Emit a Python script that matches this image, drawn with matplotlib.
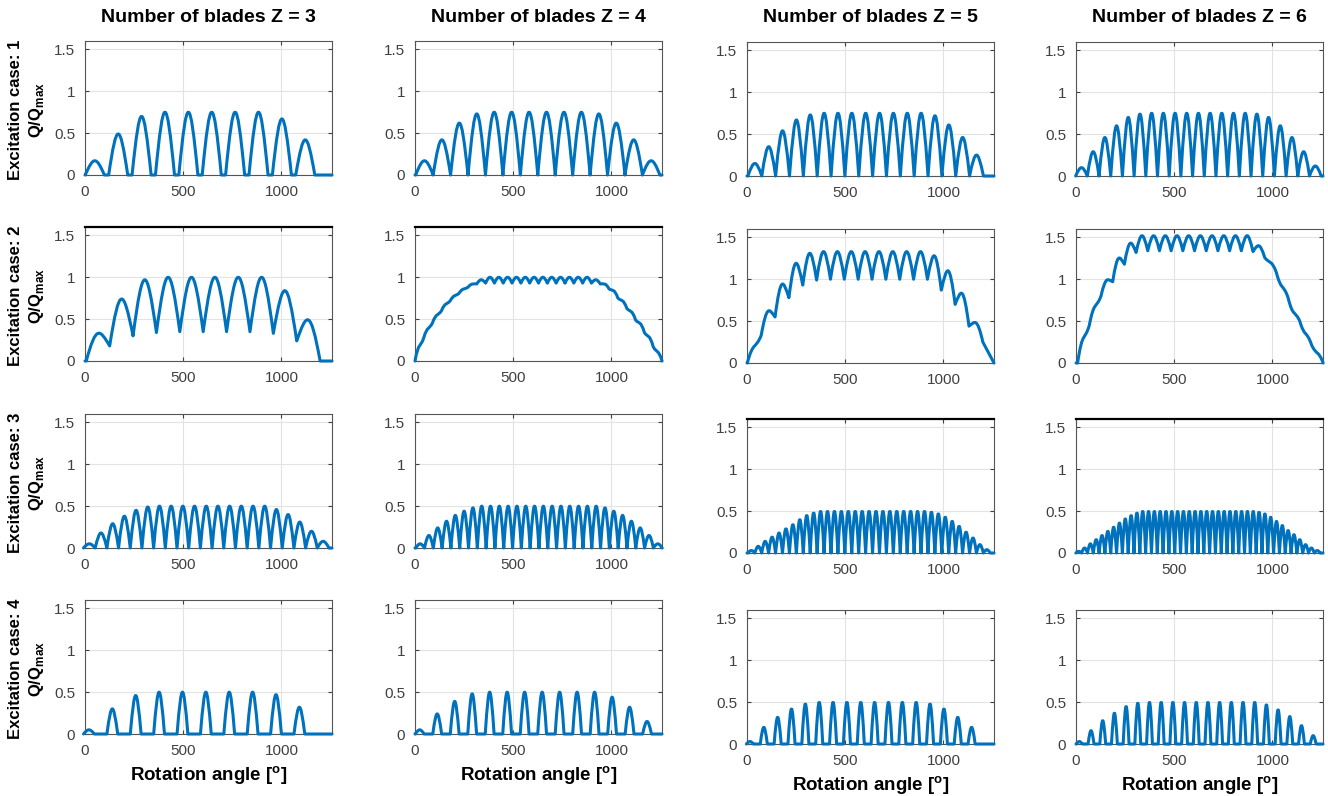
import matplotlib.pyplot as plt
from matplotlib.path import Path
from matplotlib.patches import PathPatch

plt.rcParams['font.family'] = ['Liberation Sans', 'DejaVu Sans']
plt.rcParams['mathtext.fontset'] = 'custom'
plt.rcParams['mathtext.rm'] = 'Liberation Sans'
plt.rcParams['mathtext.bf'] = 'Liberation Sans:bold'

# Data
blades = [3, 4, 5, 6]
cases = [1, 2, 3, 4]
angle_max = 1257

# Excitation case 1: separate lobes, zero between them
c1_first = [50, 48, 40, 28]          # angle of first peak
c1_period = [119, 88.75, 70.5, 59.5]  # spacing of peaks
c1_width = [97, 88.75, 70.5, 59.5]    # base width of one lobe
c1_z3 = [0.17, 0.49, 0.70, 0.75, 0.75, 0.75, 0.75, 0.75, 0.67, 0.42]
c1_z4 = [0.17, 0.42, 0.62, 0.73, 0.75, 0.75, 0.75, 0.75, 0.75, 0.75, 0.73, 0.62, 0.42, 0.17]
c1_z5 = [0.15, 0.35, 0.54, 0.67, 0.73, 0.75, 0.75, 0.75, 0.75, 0.75, 0.75, 0.75, 0.75,
         0.72, 0.61, 0.46, 0.25]
c1_z6 = [0.10, 0.29, 0.46, 0.60, 0.70, 0.74, 0.75, 0.75, 0.75, 0.75, 0.75, 0.75, 0.75,
         0.75, 0.75, 0.74, 0.70, 0.60, 0.46, 0.29, 0.12]

# Excitation case 2: ripple riding on a ramp (peaks and troughs)
c2_first = [66, 22.45, 37, 38]
c2_period = [119, 44.9, 70.5, 59.5]
c2_z3_peaks = [0.33, 0.74, 0.97, 1.0, 1.0, 1.0, 1.0, 1.0, 0.84, 0.49]
c2_z3_troughs = [0, 0.18, 0.30, 0.34, 0.35, 0.35, 0.35, 0.35, 0.33, 0.24, 0]
c2_z4_peaks = [0.18, 0.39, 0.55, 0.68, 0.78, 0.86, 0.92, 0.97, 1.0, 1.0, 1.0, 1.0, 1.0, 1.0,
               1.0, 1.0, 1.0, 1.0, 1.0, 1.0, 0.97, 0.92, 0.84, 0.72, 0.59, 0.45, 0.29, 0.11]
c2_z4_troughs = [0, 0.28, 0.46, 0.60, 0.72, 0.81, 0.88, 0.92, 0.93, 0.93, 0.93, 0.93, 0.93,
                 0.93, 0.93, 0.93, 0.93, 0.93, 0.93, 0.93, 0.93, 0.92, 0.86, 0.75, 0.63,
                 0.49, 0.34, 0.17, 0]
c2_z5_peaks = [0.20, 0.62, 0.94, 1.19, 1.31, 1.33, 1.33, 1.33, 1.33, 1.33, 1.33, 1.33, 1.33,
               1.28, 1.10, 0.83, 0.48]
c2_z5_troughs = [0, 0.33, 0.55, 0.78, 0.93, 0.99, 1.0, 1.0, 1.0, 1.0, 1.0, 1.0, 1.0, 1.0,
                 0.87, 0.70, 0.44, 0.25]
c2_z6_peaks = [0.30, 0.68, 0.99, 1.25, 1.43, 1.52, 1.52, 1.52, 1.52, 1.52, 1.52, 1.52, 1.52,
               1.52, 1.52, 1.40, 1.20, 0.91, 0.60, 0.35, 0.12]
c2_z6_troughs = [0, 0.45, 0.80, 0.97, 1.18, 1.32, 1.34, 1.34, 1.34, 1.34, 1.34, 1.34, 1.34,
                 1.34, 1.34, 1.33, 1.26, 1.08, 0.78, 0.50, 0.22, 0]

# Excitation case 3: touching lobes at double frequency
c3_first = [22, 26, 22, 14]
c3_period = [59.5, 44.8, 35.25, 29.6]
c3_z3 = [0.05, 0.18, 0.29, 0.38, 0.45, 0.49, 0.50, 0.50, 0.50, 0.50, 0.50, 0.50, 0.50,
         0.50, 0.50, 0.50, 0.46, 0.40, 0.31, 0.20, 0.08]
c3_z4 = [0.05, 0.15, 0.24, 0.32, 0.39, 0.44, 0.48, 0.50, 0.50, 0.50, 0.50, 0.50, 0.50,
         0.50, 0.50, 0.50, 0.50, 0.50, 0.50, 0.50, 0.50, 0.48, 0.44, 0.39, 0.32, 0.24,
         0.15, 0.05]
c3_z5 = [0.03, 0.08, 0.14, 0.19, 0.24, 0.29, 0.34, 0.40, 0.45, 0.48, 0.50, 0.50, 0.50,
         0.50, 0.50, 0.50, 0.50, 0.50, 0.50, 0.50, 0.50, 0.50, 0.50, 0.50, 0.50, 0.50,
         0.49, 0.47, 0.43, 0.38, 0.32, 0.25, 0.18, 0.10, 0.04]
c3_z6 = [0.02, 0.06, 0.11, 0.16, 0.21, 0.26, 0.31, 0.36, 0.41, 0.45, 0.48, 0.50, 0.50,
         0.50, 0.50, 0.50, 0.50, 0.50, 0.50, 0.50, 0.50, 0.50, 0.50, 0.50, 0.50, 0.50,
         0.50, 0.50, 0.50, 0.50, 0.50, 0.49, 0.47, 0.43, 0.38, 0.33, 0.27, 0.22, 0.16,
         0.10, 0.06, 0.03]

# Excitation case 4: narrow pulses
c4_first = [20, 24, 15, 17]
c4_period = [119, 89, 70.5, 59.5]
c4_width = [55, 45, 36, 30]
c4_z3 = [0.05, 0.30, 0.46, 0.50, 0.50, 0.50, 0.50, 0.50, 0.47, 0.32]
c4_z4 = [0.05, 0.24, 0.39, 0.48, 0.50, 0.50, 0.50, 0.50, 0.50, 0.50, 0.50, 0.44, 0.32, 0.15]
c4_z5 = [0.03, 0.20, 0.32, 0.42, 0.48, 0.50, 0.50, 0.50, 0.50, 0.50, 0.50, 0.50, 0.50,
         0.48, 0.42, 0.32, 0.20]
c4_z6 = [0.03, 0.16, 0.28, 0.37, 0.45, 0.49, 0.50, 0.50, 0.50, 0.50, 0.50, 0.50, 0.50,
         0.50, 0.50, 0.50, 0.47, 0.41, 0.33, 0.22, 0.10]


def wave_path(first, period, width, peaks, troughs=None):
    # each lobe is one cubic Bezier from trough to trough
    if troughs is None:
        troughs = [0] * (len(peaks) + 1)
    verts, codes = [], []
    k, a = 4 / 3, 0.424
    xr = 0
    for i, h in enumerate(peaks):
        xc = first + i * period
        xl, xr = xc - width / 2, xc + width / 2
        yl, yr = troughs[i], troughs[i + 1]
        if i == 0:
            if xl > 0:
                verts += [(0, 0), (xl, yl)]
                codes += [Path.MOVETO, Path.LINETO]
            else:
                verts.append((xl, yl))
                codes.append(Path.MOVETO)
        else:
            verts.append((xl, yl))
            codes.append(Path.LINETO)
        verts += [(xl + a * width, yl + k * (h - yl)),
                  (xr - a * width, yr + k * (h - yr)),
                  (xr, yr)]
        codes += [Path.CURVE4] * 3
    if xr < angle_max:
        verts.append((angle_max, 0))
        codes.append(Path.LINETO)
    return Path(verts, codes)


paths = [
    [wave_path(c1_first[j], c1_period[j], c1_width[j], p)
     for j, p in enumerate([c1_z3, c1_z4, c1_z5, c1_z6])],
    [wave_path(c2_first[j], c2_period[j], c2_period[j], p, t)
     for j, (p, t) in enumerate([(c2_z3_peaks, c2_z3_troughs), (c2_z4_peaks, c2_z4_troughs),
                                 (c2_z5_peaks, c2_z5_troughs), (c2_z6_peaks, c2_z6_troughs)])],
    [wave_path(c3_first[j], c3_period[j], c3_period[j], p)
     for j, p in enumerate([c3_z3, c3_z4, c3_z5, c3_z6])],
    [wave_path(c4_first[j], c4_period[j], c4_width[j], p)
     for j, p in enumerate([c4_z3, c4_z4, c4_z5, c4_z6])],
]

W, H = 1328, 796
fig = plt.figure(figsize=(W / 100, H / 100), dpi=100)

col_left = [85, 415, 747, 1076]
col_w = 247
row_top = [[41, 41, 42, 42], [227, 227, 229, 229], [414, 414, 419, 419], [600, 600, 610, 610]]
ax_h = 134
blue = '#0072BD'
dark = '#404040'
# panels whose top frame edge is drawn heavier in the original
heavy_top = [(1, 0), (1, 1), (2, 2), (2, 3)]

for r in range(4):
    for c in range(4):
        left, top = col_left[c], row_top[r][c]
        ax = fig.add_axes([left / W, 1 - (top + ax_h) / H, col_w / W, ax_h / H])
        ax.add_patch(PathPatch(paths[r][c], fill=False, edgecolor=blue, lw=2.2,
                               joinstyle='round', capstyle='round', clip_on=False, zorder=3))
        ax.set_xlim(0, angle_max)
        ax.set_ylim(0, 1.6)
        ax.set_xticks([0, 500, 1000])
        ax.set_yticks([0, 0.5, 1, 1.5])
        ax.set_yticklabels(['0', '0.5', '1', '1.5'])
        ax.grid(True, color='#e3e3e3', lw=0.8)
        ax.set_axisbelow(True)
        ax.tick_params(direction='in', length=3, labelsize=11, labelcolor=dark,
                       color=dark, top=True, right=True, pad=7)
        for s in ax.spines.values():
            s.set_color('#555555')
            s.set_linewidth(0.8)
        if (r, c) in heavy_top:
            ax.spines['top'].set_color('black')
            ax.spines['top'].set_linewidth(1.6)
        if r == 0:
            fig.text((left + col_w / 2) / W, 1 - 18 / H, f'Number of blades Z = {blades[c]}',
                     ha='center', va='center', fontsize=14, fontweight='bold')
        if r == 3:
            fig.text((left + col_w / 2) / W, 1 - (top + ax_h + 41) / H,
                     r'Rotation angle [$\mathbf{^o}$]',
                     ha='center', va='center', fontsize=13.5, fontweight='bold')
        if c == 0:
            yc = 1 - (top + ax_h / 2 + 2) / H
            fig.text(16 / W, yc, f'Excitation case: {cases[r]}', rotation=90,
                     ha='center', va='center', fontsize=12, fontweight='bold')
            fig.text(36 / W, yc, r'Q/Q$_{\mathbf{max}}$', rotation=90,
                     ha='center', va='center', fontsize=12, fontweight='bold')

fig.savefig('out.png', dpi=100)
